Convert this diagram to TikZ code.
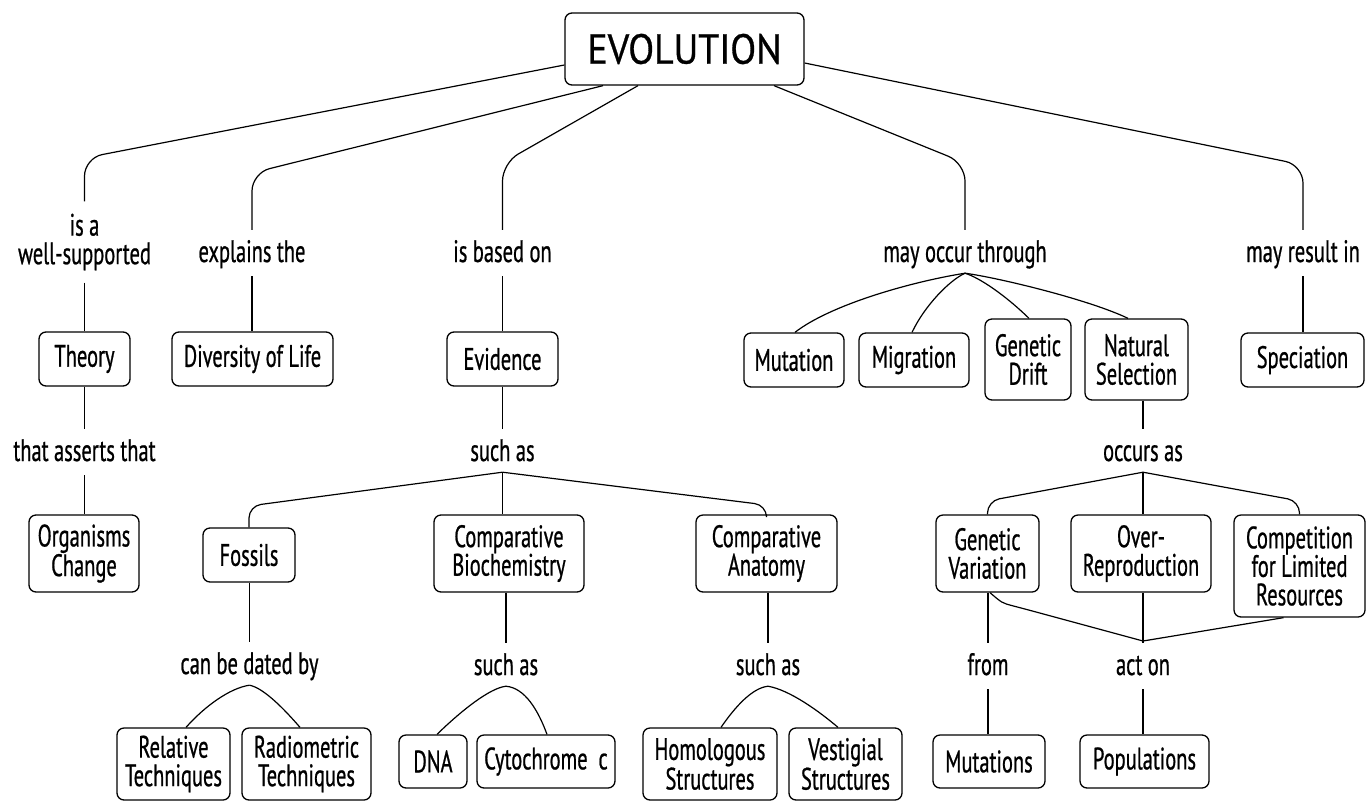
\documentclass[tikz,border=0pt]{standalone}
\usepackage{fontspec}
\setmainfont{PT Sans}[FakeStretch=0.66,FakeBold=0.7]
\newfontfamily\evofont{PT Sans}[FakeStretch=0.9,FakeBold=0.7]
\usetikzlibrary{calc}
\begin{document}
\begin{tikzpicture}[x=1pt,y=-1pt,
  txt/.style={font=\fontsize{31}{28.5}\selectfont},
  box/.style={txt, draw, line width=1.3pt, rounded corners=7pt, align=center, inner sep=0pt},
  sz/.style 2 args={minimum width=#1pt, minimum height=#2pt},
  lab/.style={txt, inner sep=0pt, anchor=base, text height=32pt, text depth=14pt},
  labml/.style={txt, align=center, inner xsep=0pt, inner ysep=12pt},
  conn/.style={line width=1.2pt, rounded corners=12pt},
  bigconn/.style={line width=1.2pt, rounded corners=18pt},
]
\fill[white] (0,0) rectangle (1370,801);
\useasboundingbox (0,0) rectangle (1370,801);

% boxes
\node[box, sz={239}{72}, font=\evofont\fontsize{42}{44}\selectfont] (evo) at (684.5,49) {EVOLUTION};
\node[box, sz={91}{54}] (theory) at (84.5,359) {Theory};
\node[box, sz={161}{54}] (div) at (252.5,359) {Diversity of Life};
\node[box, sz={111}{54}] (evid) at (502.5,359) {Evidence};
\node[box, sz={100}{54}] (mut) at (794,360) {Mutation};
\node[box, sz={110}{54}] (mig) at (914,360) {Migration};
\node[box, sz={86}{81}] (drift) at (1028,359.5) {Genetic\\Drift};
\node[box, sz={103}{81}] (natsel) at (1136.5,359.5) {Natural\\Selection};
\node[box, sz={123}{54}] (spec) at (1302.5,360) {Speciation};
\node[box, sz={110}{77}] (org) at (84,553.5) {Organisms\\Change};
\node[box, sz={92}{54}] (fossils) at (249,555) {Fossils};
\node[box, sz={150}{77}] (compbio) at (509,553.5) {Comparative\\Biochemistry};
\node[box, sz={141}{77}] (companat) at (766.5,553.5) {Comparative\\Anatomy};
\node[box, sz={103}{77}] (genvar) at (987.5,553.5) {Genetic\\Variation};
\node[box, sz={140}{77}] (overrep) at (1141,553.5) {Over-\\Reproduction};
\node[box, sz={131}{102}] (compet) at (1299.5,566) {Competition\\for Limited\\Resources};
\node[box, sz={113}{72}] (rel) at (173.5,764) {Relative\\Techniques};
\node[box, sz={129}{72}] (radio) at (306.5,764) {Radiometric\\Techniques};
\node[box, sz={68}{53}] (dna) at (433,761.5) {DNA};
\node[box, sz={138}{53}] (cyto) at (546,761.5) {Cytochrome\ \ c};
\node[box, sz={134}{72}] (homol) at (710,764) {Homologous\\Structures};
\node[box, sz={113}{72}] (vestig) at (845.5,764) {Vestigial\\Structures};
\node[box, sz={112}{53}] (mutations) at (989,761.5) {Mutations};
\node[box, sz={129}{53}] (pops) at (1144.5,761.5) {Populations};

% labels
\node[labml] (isa) at (84.5,242) {is a\\well-supported};
\node[lab] (expl) at (252,262) {explains the};
\node[lab] (based) at (502.5,262) {is based on};
\node[lab] (mot) at (965,262) {may occur through};
\node[lab] (mri) at (1303,262) {may result in};
\node[lab] (tat) at (84.5,461) {that asserts that};
\node[lab] (such1) at (502.5,461) {such as};
\node[lab] (occ) at (1143,461) {occurs as};
\node[lab] (canbe) at (249.5,674) {can be dated by};
\node[lab] (such2) at (506,675) {such as};
\node[lab] (such3) at (768,675) {such as};
\node[lab] (from) at (988,675) {from};
\node[lab] (acton) at (1143,675) {act on};

% from EVOLUTION
\draw[bigconn] ([yshift=-16pt]evo.west) -- (isa.north |- 0,158) -- (isa.north);
\draw[bigconn] ([xshift=-81.5pt]evo.south) -- (expl.north |- 0,173) -- (expl.north);
\draw[bigconn] ([xshift=-46.5pt]evo.south) -- (based.north |- 0,163) -- (based.north);
\draw[bigconn] ([xshift=89.5pt]evo.south) -- (mot.north |- 0,163) -- (mot.north);
\draw[bigconn] ([yshift=-14pt]evo.east) -- (mri.north |- 0,165) -- (mri.north);

% verticals
\draw[conn] (isa.south) -- (isa.south |- theory.north);
\draw[conn] (tat.north |- theory.south) -- (tat.north);
\draw[conn] (tat.south) -- (tat.south |- org.north);
\draw[conn] (expl.south) -- (expl.south |- div.north);
\draw[conn] (based.south) -- (based.south |- evid.north);
\draw[conn] (such1.north |- evid.south) -- (such1.north);
\draw[conn] (mri.south) -- (mri.south |- spec.north);
\draw[conn] (occ.north |- natsel.south) -- (occ.north);
\draw[conn] (canbe.north |- fossils.south) -- (canbe.north);
\draw[conn] (such2.north |- compbio.south) -- (such2.north);
\draw[conn] (such3.north |- companat.south) -- (such3.north);
\draw[conn] (from.north |- genvar.south) -- (from.north);
\draw[conn] (from.south) -- (from.south |- mutations.north);
\draw[conn] (acton.north |- overrep.south) -- (acton.north);
\draw[conn] (acton.south) -- (acton.south |- pops.north);

% fan: may occur through
\coordinate (a3) at ([yshift=3pt]mot.south);
\draw[conn] (a3) .. controls (910,282) and (830,305) .. ([xshift=1pt]mut.north);
\draw[conn] (a3) .. controls (950,280) and (925,305) .. ([xshift=-2pt]mig.north);
\draw[conn] (a3) .. controls (980,278) and (1005,295) .. ([xshift=1pt]drift.north);
\draw[conn] (a3) .. controls (1000,278) and (1090,300) .. ([xshift=-8.5pt]natsel.north);

% fan: such as (evidence)
\coordinate (a1) at ([yshift=3pt]such1.south);
\draw[conn] (a1) -- (fossils.north |- 0,506) -- (fossils.north);
\draw[conn] (a1) -- (a1 |- compbio.north);
\draw[conn] (a1) -- (companat.north |- 0,505) -- (companat.north);

% fan: occurs as
\coordinate (a2) at ([yshift=3pt]occ.south);
\draw[conn] (a2) -- (genvar.north |- 0,501) -- (genvar.north);
\draw[conn] (a2) -- (a2 |- overrep.north);
\draw[conn] (a2) -- (compet.north |- 0,501) -- (compet.north);

% arches
\coordinate (a4) at ([yshift=3pt]canbe.south);
\draw[conn] (a4) .. controls (230,688) and (205,706) .. ([xshift=12.5pt]rel.north);
\draw[conn] (a4) .. controls (264,688) and (285,710) .. ([xshift=-6.5pt]radio.north);
\coordinate (a5) at ([yshift=3pt]such2.south);
\draw[conn] (a5) .. controls (490,688) and (462,710) .. ([xshift=4pt]dna.north);
\draw[conn] (a5) .. controls (525,688) and (538,710) .. ([xshift=1pt]cyto.north);
\coordinate (a6) at ([yshift=3pt]such3.south);
\draw[conn] (a6) .. controls (752,688) and (735,707) .. ([xshift=11pt]homol.north);
\draw[conn] (a6) .. controls (790,690) and (820,712) .. ([xshift=-7.5pt]vestig.north);

% act on merge
\coordinate (merge) at (acton.north |- 0,641);
\draw[conn] ([xshift=2.5pt]genvar.south) .. controls (1002,603) .. (1025,609) -- (merge);
\draw[conn] ([xshift=-16pt]compet.south) -- (merge);
\end{tikzpicture}
\end{document}
